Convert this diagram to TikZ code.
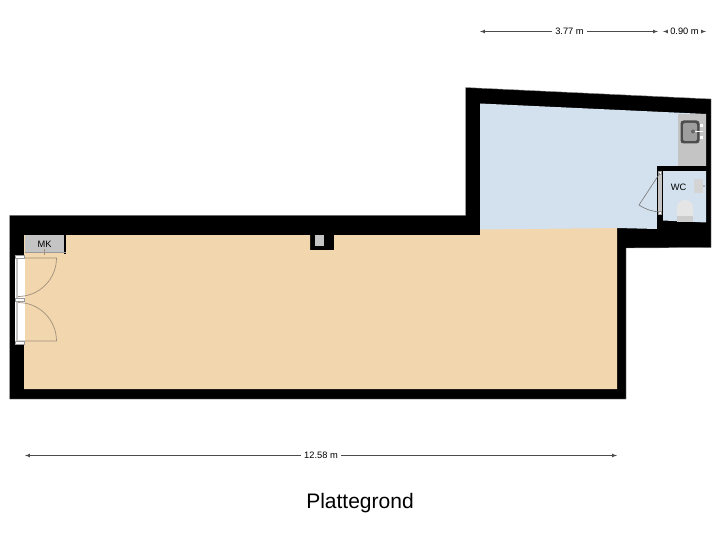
\documentclass[tikz,border=0pt]{standalone}
\usepackage{fontspec}
\setmainfont{Liberation Sans}
\definecolor{floorwarm}{HTML}{F2D7AE}
\definecolor{floorblue}{HTML}{D3E1EE}
\definecolor{fixture}{HTML}{C4C4C4}
\definecolor{dimline}{HTML}{9A9A9A}
\definecolor{doorline}{HTML}{A08F7A}
\begin{document}
\begin{tikzpicture}[x=1pt,y=-1pt]
  \tikzstyle{every node}=[font=\fontsize{9.3}{11}\selectfont,inner sep=0pt]
  \tikzstyle{tip}=[-latex,draw=black!70,line width=0.7pt]
  \tikzstyle{leaf}=[draw=doorline,line width=0.7pt]
  \tikzstyle{post}=[draw=dimline,line width=0.4pt,fill=white]
 \useasboundingbox (0,0) rectangle (720,540);

 % walls and floors
 \fill [black,draw=black!45,line width=0.4pt] (9.5,215.5) -- (465.5,215.5) -- (465.5,87.5) -- (711,99) -- (711,247.5) -- (626,248) -- (626,399) -- (9.5,399) -- cycle;
 \fill [floorwarm] (24,235) -- (310,235) -- (310,250) -- (334,250) -- (334,235) -- (480,235) -- (480,225) -- (617,225) -- (617,389) -- (24,389) -- cycle;
 \fill [floorblue] (480,103.5) -- (706,114) -- (706,166) -- (657,166) -- (657,229) -- (617,228) -- (480,229.5) -- cycle;
 \fill [floorblue] (663,171) -- (706,171) -- (706,222.5) -- (663,220.5) -- cycle;
 \fill [fixture] (678,114) -- (706,114) -- (706,166) -- (678,166) -- cycle;
 \fill [fixture] (315,235) rectangle (324,246);

 % meter cupboard
 \fill [fixture] (25,235) rectangle (64,253);
 \fill [black] (64,235) rectangle (66,254);
 \draw [dimline,line width=0.7pt] (25,252.5) -- (66,252.5);
 \draw [doorline,line width=0.5pt] (44.5,249) -- (44.5,255);

 % entrance
 \fill [white] (15,255) rectangle (24.5,344);
 \fill [fixture] (15.5,257) rectangle (18,342);
 \draw [leaf] (18,258) -- (56.5,258) arc (0:90:38.5);
 \draw [leaf] (18,341) -- (56.5,341) arc (0:-90:38.5);
 \draw [post] (15.5,255.5) rectangle (24,258.5);
 \draw [post] (15.5,298.5) rectangle (24,301.5);
 \draw [post] (15.5,341) rectangle (24,344);

 % sink
 \fill [black!70,rounded corners=3pt] (680.5,120.5) rectangle (699.5,143.5);
 \fill [black!38,rounded corners=2pt] (683,123) rectangle (697,141);
 \fill [white] (700,124.5) rectangle (703,127.5);
 \fill [white] (700,136) rectangle (703,139);
 \draw [white,line width=0.7pt] (695,131.5) -- (703,131.5);
 \fill [black!60] (693,131.5) circle (2);

 % toilet room
 \fill [black] (657,166) rectangle (706,171);
 \fill [black] (657,166) rectangle (663,229);
 \fill [fixture] (658,173) rectangle (662,213);
 \draw [post] (658.5,171.5) rectangle (661.5,174.5);
 \draw [post] (658.5,211) rectangle (661.5,214);
 \draw [black!55,line width=0.6pt] (660,173) -- (639,205) to[bend right=14] (660,212);
 \fill [black!17] (694,179) rectangle (703,193);
 \fill [black!30] (703,185) rectangle (705,187);
 \fill [black!10] (677,222) -- (677,208) arc (180:360:8) -- (693,222) -- cycle;
 \fill [black!20] (677,216.5) rectangle (693,222);

 % room labels
 \node[draw=none,fill=none] (mk) at (44.5,244) {MK};
 \node[draw=none,fill=none] (wc) at (678.5,187) {WC};

 % dimensions
 \node[draw=none,fill=none] (d1) at (569.5,31.5) {3.77 m};
 \node[draw=none,fill=none] (d2) at (684.5,31.5) {0.90 m};
 \node[draw=none,fill=none] (d3) at (321,455.5) {12.58 m};
 \node[draw=none,fill=none,font=\fontsize{21}{25}\selectfont] (title) at (360,503) {Plattegrond};
 \coordinate (d1a) at (480,31.5);
 \coordinate (d1b) at (658,31.5);
 \coordinate (d2a) at (663,31.5);
 \coordinate (d2b) at (706,31.5);
 \coordinate (d3a) at (25,455.5);
 \coordinate (d3b) at (617,455.5);

 \draw [tip] (d1.west) ++(-3,0) -- (d1a);
 \draw [tip] (d1.east) ++(3,0) -- (d1b);
 \draw [tip] (d2.west) ++(-3,0) -- (d2a);
 \draw [tip] (d2.east) ++(3,0) -- (d2b);
 \draw [tip] (d3.west) ++(-3,0) -- (d3a);
 \draw [tip] (d3.east) ++(3,0) -- (d3b);

\end{tikzpicture}
\end{document}
